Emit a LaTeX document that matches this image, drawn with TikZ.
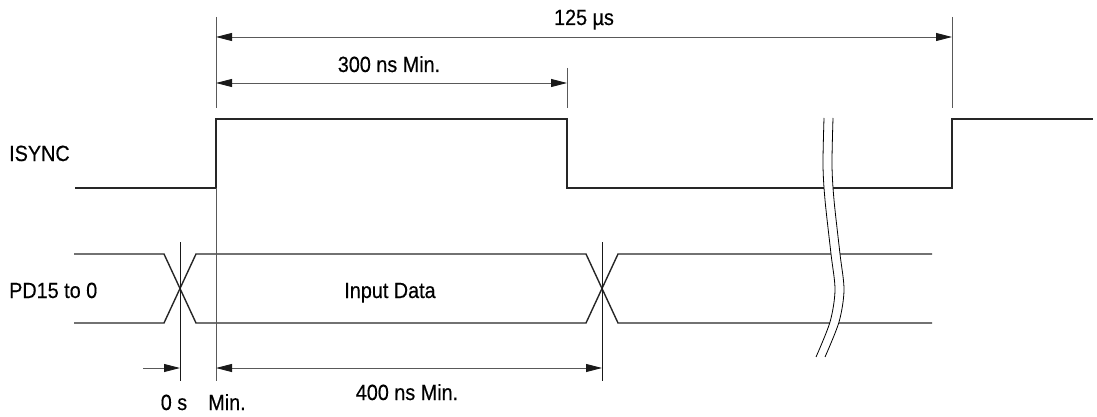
\documentclass[tikz,border=0pt]{standalone}
\usepackage{fontspec}
\setmainfont{Liberation Sans}[FakeStretch=0.9,FakeBold=0.4]
\usetikzlibrary{arrows.meta}
\tikzset{
  sig/.style={line width=1.4pt, black!85, line join=miter},
  dim/.style={line width=0.9pt, black!65},
  dimtip/.tip={Triangle[length=16pt,width=8pt,color=black!90]},
  dimarrow/.style={dim, dimtip-dimtip},
  dimarrowR/.style={dim, -dimtip},
  lbl/.style={anchor=base, inner sep=0pt, font=\fontsize{22pt}{24pt}\selectfont},
  brk/.style={line width=0.8pt, black}
}
\begin{document}
\begin{tikzpicture}[x=1pt,y=-1pt]
\useasboundingbox (0,0) rectangle (1097,417);
% ---------- ISYNC waveform ----------
\coordinate (i0) at (75,188);
\coordinate (i1) at (216,188);
\coordinate (i2) at (216,119);
\coordinate (i3) at (567,119);
\coordinate (i4) at (567,188);
\coordinate (i5) at (952,188);
\coordinate (i6) at (952,119);
\coordinate (i7) at (1093,119);
\draw[sig] (i0) -- (i1) -- (i2) -- (i3) -- (i4) -- (i5) -- (i6) -- (i7);
% ---------- PD15 to 0 bus ----------
\coordinate (dTL) at (74,254);  \coordinate (dBL) at (74,323);
\coordinate (a1) at (164,254);  \coordinate (b1) at (164,323);
\coordinate (c1) at (196,254);  \coordinate (e1) at (196,323);
\coordinate (a2) at (586,254);  \coordinate (b2) at (586,323);
\coordinate (c2) at (618,254);  \coordinate (e2) at (618,323);
\coordinate (dTR) at (932,254); \coordinate (dBR) at (932,323);
\draw[sig] (dTL) -- (a1) -- (e1) -- (b2) -- (c2) -- (dTR);
\draw[sig] (dBL) -- (b1) -- (c1) -- (a2) -- (e2) -- (dBR);
% ---------- extension lines ----------
\coordinate (x1t) at (216,17);  \coordinate (x1b) at (216,108);
\coordinate (x1c) at (216,188); \coordinate (x1d) at (216,381);
\coordinate (x2t) at (567,68);  \coordinate (x2b) at (567,108);
\coordinate (x3t) at (952,17);  \coordinate (x3b) at (952,108);
\coordinate (x4t) at (180,242); \coordinate (x4b) at (180,381);
\coordinate (x5t) at (602,242); \coordinate (x5b) at (602,381);
\draw[dim] (x1t) -- (x1b);
\draw[dim] (x1c) -- (x1d);
\draw[dim] (x2t) -- (x2b);
\draw[dim] (x3t) -- (x3b);
\draw[dim,black!90] (x4t) -- (x4b);
\draw[dim,black!90] (x5t) -- (x5b);
% ---------- dimension arrows ----------
\coordinate (d1l) at (216,37);  \coordinate (d1r) at (952,37);
\coordinate (d2l) at (216,83);  \coordinate (d2r) at (567,83);
\coordinate (d3l) at (216,368); \coordinate (d3r) at (602,368);
\coordinate (d4l) at (143,368); \coordinate (d4r) at (180,368);
\draw[dimarrow] (d1l) -- (d1r);
\draw[dimarrow] (d2l) -- (d2r);
\draw[dimarrow] (d3l) -- (d3r);
\draw[dimarrowR] (d4l) -- (d4r);
% ---------- break symbol ----------
\fill[white] plot[smooth] coordinates {(824,118) (823,165) (825,200) (831,254) (835,290) (830,322) (816,357)}
  -- plot[smooth] coordinates {(825,357) (839,322) (844,290) (840,254) (834,200) (832,165) (833,118)} -- cycle;
\draw[brk] plot[smooth] coordinates {(824,118) (823,165) (825,200) (831,254) (835,290) (830,322) (816,357)};
\draw[brk] plot[smooth] coordinates {(833,118) (832,165) (834,200) (840,254) (844,290) (839,322) (825,357)};
% ---------- labels ----------
\node[lbl, anchor=base west] (lisync) at (9,161) {ISYNC};
\node[lbl, anchor=base west] (lpd) at (9,298) {PD15 to 0};
\node[lbl] (lin) at (390,298) {Input Data};
\node[lbl] (l125) at (584,25) {125 \textmu s};
\node[lbl] (l300) at (389,72) {300 ns Min.};
\node[lbl] (l400) at (407,400) {400 ns Min.};
\node[lbl] (l0s) at (174,410) {0 s};
\node[lbl] (lmin) at (227,410) {Min.};
\end{tikzpicture}
\end{document}
